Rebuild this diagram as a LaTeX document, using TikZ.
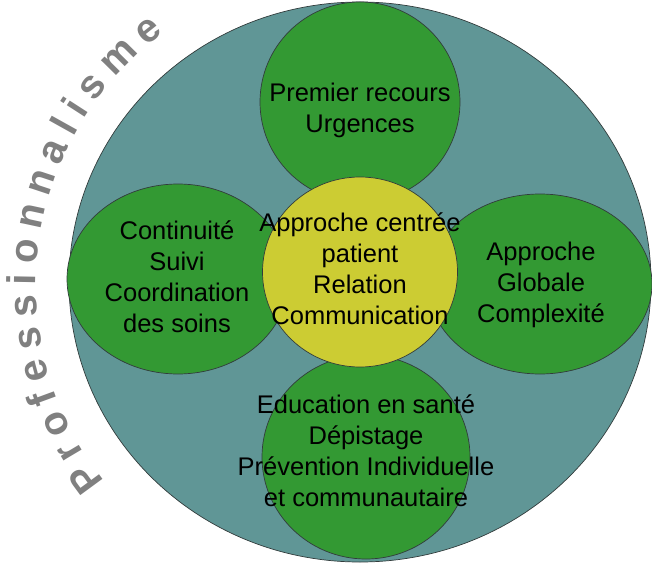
\documentclass[tikz,border=0pt]{standalone}
\usepackage{fontspec}
\setmainfont{Liberation Sans}
\usetikzlibrary{shapes.geometric}
\definecolor{tealfill}{RGB}{96,150,150}
\definecolor{leaf}{RGB}{51,153,51}
\definecolor{lemon}{RGB}{204,204,51}
\definecolor{edgecol}{RGB}{50,60,60}
\definecolor{greytxt}{RGB}{128,128,128}
\newcommand{\lstrut}{\rule[-6pt]{0pt}{24pt}}
\tikzset{
  blob/.style={ellipse, draw=edgecol, line width=0.7pt, inner sep=0pt},
  lbl/.style={align=center, inner sep=0pt, font=\fontsize{25.5}{31}\selectfont, text=black},
  arcletter/.style={inner sep=0pt, anchor=base, text=greytxt, font=\bfseries\fontsize{40}{40}\selectfont}
}
\begin{document}
\begin{tikzpicture}[x=1pt,y=1pt]
\useasboundingbox (0,0) rectangle (652,563);
% big circle
\node[blob, fill=tealfill, minimum width=582, minimum height=560] (big) at (360,281) {};
% petals
\node[blob, fill=leaf, minimum width=200, minimum height=200] (top) at (360,461) {};
\node[blob, fill=leaf, minimum width=222, minimum height=190] (left) at (178,284) {};
\node[blob, fill=leaf, minimum width=224, minimum height=180] (right) at (540,279) {};
\node[blob, fill=leaf, minimum width=208, minimum height=204] (bottom) at (366,106) {};
% centre
\node[blob, fill=lemon, minimum width=195, minimum height=190] (centre) at (360,291) {};
% texts
\node[lbl] (ttop) at (360,563-111) {\lstrut Premier recours\\\lstrut Urgences};
\node[lbl] (tleft) at (177,563-280) {\lstrut Continuité\\\lstrut Suivi\\\lstrut Coordination\\\lstrut des soins};
\node[lbl] (tright) at (541,563-285) {\lstrut Approche\\\lstrut Globale\\\lstrut Complexité};
\node[lbl] (tbottom) at (366,563-454) {\lstrut Education en santé\\\lstrut Dépistage\\\lstrut Prévention Individuelle\\\lstrut et communautaire};
\node[lbl] (tcentre) at (360,563-272) {\lstrut Approche centrée\\\lstrut patient\\\lstrut Relation\\\lstrut Communication};
% arc text, letter by letter
\gdef\cum{0}
\foreach \ch/\w [count=\i] in {P/0.667, r/0.389, o/0.611, f/0.333, e/0.556, s/0.556, s/0.556, i/0.278, o/0.611, n/0.611, n/0.611, a/0.556, l/0.278, i/0.278, s/0.556, m/0.889, e/0.556}{
  \pgfmathsetmacro{\sc}{\cum + \w*20}
  \pgfmathsetmacro{\ang}{218.7 - \sc/314*57.2958}
  \pgfmathsetmacro{\rot}{\ang - 90}
  \node[arcletter, rotate=\rot] (pl\i) at ([shift={(\ang:314)}]350,277.5) {\ch};
  \pgfmathsetmacro{\nc}{\cum + \w*40 + 9.4}
  \xdef\cum{\nc}
}
\end{tikzpicture}
\end{document}
